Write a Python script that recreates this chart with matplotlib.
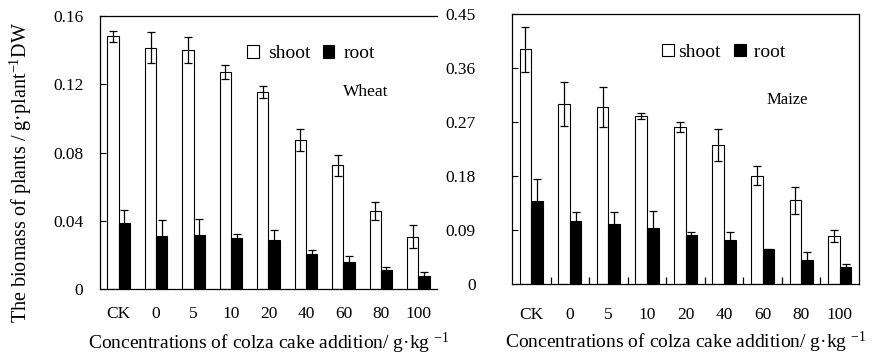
import matplotlib.pyplot as plt
import numpy as np

plt.rcParams["font.family"] = ["Liberation Serif", "DejaVu Serif"]
plt.rcParams["mathtext.fontset"] = "custom"
plt.rcParams["mathtext.rm"] = "Liberation Serif"
plt.rcParams["mathtext.it"] = "Liberation Serif:italic"
plt.rcParams["mathtext.bf"] = "Liberation Serif:bold"

concentrations = ["CK", "0", "5", "10", "20", "40", "60", "80", "100"]

wheat_shoot = [0.148, 0.1415, 0.140, 0.127, 0.1155, 0.0873, 0.0725, 0.0455, 0.0307]
wheat_shoot_err = [0.003, 0.009, 0.0078, 0.004, 0.0033, 0.0063, 0.006, 0.0053, 0.0068]
wheat_root = [0.0389, 0.0309, 0.0318, 0.0301, 0.0285, 0.0203, 0.016, 0.011, 0.0074]
wheat_root_err = [0.0074, 0.0095, 0.0094, 0.0023, 0.0059, 0.0027, 0.0033, 0.0021, 0.0024]

maize_shoot = [0.391, 0.3005, 0.2955, 0.2805, 0.262, 0.2317, 0.1805, 0.1395, 0.0805]
maize_shoot_err = [0.038, 0.037, 0.033, 0.005, 0.008, 0.026, 0.0155, 0.0225, 0.010]
maize_root = [0.1378, 0.1045, 0.0995, 0.0939, 0.0817, 0.0739, 0.0578, 0.040, 0.0278]
maize_root_err = [0.037, 0.015, 0.020, 0.028, 0.0044, 0.012, 0.0008, 0.0128, 0.005]

XLABEL = r"Concentrations of colza cake addition/ g·kg $^{-1}$"
YLABEL = r"The biomass of plants / g·plant$^{-1}$DW"

fig = plt.figure(figsize=(8.77, 3.59), dpi=100)
ax_w = fig.add_axes([0.114, 0.195, 0.3843, 0.7604])
ax_m = fig.add_axes([0.5838, 0.2089, 0.3957, 0.752])


def draw_panel(ax, shoot, shoot_err, root, root_err, ymax, yticks, ticklabels):
    x = np.arange(len(concentrations))
    w = 0.3
    err_kw = dict(ecolor="black", elinewidth=0.9, capsize=2.6, capthick=0.9)
    b1 = ax.bar(x - w / 2, shoot, w, yerr=shoot_err, color="white",
                edgecolor="black", linewidth=0.8, error_kw=err_kw, label="shoot")
    b2 = ax.bar(x + w / 2, root, w, yerr=root_err, color="black",
                edgecolor="black", linewidth=0.8, error_kw=err_kw, label="root")
    ax.set_xlim(-0.5, len(concentrations) - 0.5)
    ax.set_ylim(0, ymax)
    ax.set_yticks(yticks)
    ax.set_yticklabels(ticklabels)
    ax.set_xticks(x)
    ax.set_xticklabels(concentrations)
    for s in ax.spines.values():
        s.set_linewidth(0.9)
    return b1, b2


b1, b2 = draw_panel(ax_w, wheat_shoot, wheat_shoot_err, wheat_root, wheat_root_err,
                    0.16, [0, 0.04, 0.08, 0.12, 0.16],
                    ["0", "0.04", "0.08", "0.12", "0.16"])
ax_w.spines["right"].set_visible(False)
ax_w.tick_params(axis="y", direction="in", length=4, pad=12, labelsize=12.5)
ax_w.tick_params(axis="x", length=0, pad=12.5, labelsize=12.5)
ax_w.set_xlabel(XLABEL, fontsize=14, labelpad=6)
ax_w.legend([b1, b2], ["shoot", "root"], loc="center", bbox_to_anchor=(0.627, 0.861),
            ncol=2, frameon=False, fontsize=14, handlelength=0.6, handleheight=0.6,
            handletextpad=0.5, columnspacing=0.6, borderpad=0)
ax_w.text(0.789, 0.72, "Wheat", transform=ax_w.transAxes, ha="center", va="center",
          fontsize=12.5)

b1, b2 = draw_panel(ax_m, maize_shoot, maize_shoot_err, maize_root, maize_root_err,
                    0.45, [0, 0.09, 0.18, 0.27, 0.36, 0.45],
                    ["0", "0.09", "0.18", "0.27", "0.36", "0.45"])
ax_m.set_xticks(np.arange(len(concentrations) - 1) + 0.5, minor=True)
ax_m.tick_params(axis="x", which="minor", direction="in", length=5, width=0.9)
ax_m.tick_params(axis="x", which="major", length=0, pad=16.5, labelsize=12.5)
ax_m.tick_params(axis="y", direction="in", length=4, pad=26, labelsize=12.5)
ax_m.set_xlabel(XLABEL, fontsize=14, labelpad=5)
ax_m.legend([b1, b2], ["shoot", " root"], loc="center", bbox_to_anchor=(0.611, 0.859),
            ncol=2, frameon=False, fontsize=14, handlelength=0.6, handleheight=0.6,
            handletextpad=0.2, columnspacing=0.7, borderpad=0)
ax_m.text(0.793, 0.683, "Maize", transform=ax_m.transAxes, ha="center", va="center",
          fontsize=12)

fig.text(0.024, 0.519, YLABEL, rotation=90, ha="center", va="center", fontsize=14.5)

fig.savefig("out.png", dpi=100)
